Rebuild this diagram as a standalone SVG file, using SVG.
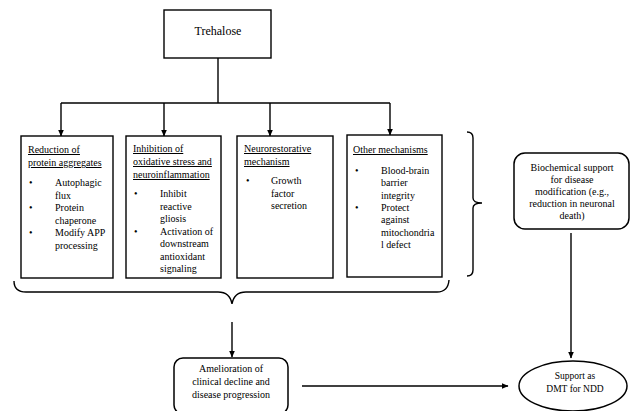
<svg xmlns="http://www.w3.org/2000/svg" width="630" height="411" viewBox="0 0 630 411">
<defs>
<marker id="ah" markerWidth="7" markerHeight="7" refX="6.5" refY="3.5" orient="auto" markerUnits="userSpaceOnUse">
<path d="M0,0.5 L7,3.5 L0,6.5 Z" fill="#000"/>
</marker>
<style>
text{font-family:"Liberation Serif","Times New Roman",serif;font-size:10px;fill:#000}
.t12{font-size:12px}
.c{text-anchor:middle}
.u{text-decoration:underline}
.box{fill:#fff;stroke:#000;stroke-width:1.4}
.rb{fill:#fff;stroke:#000;stroke-width:1.5}
.ln{fill:none;stroke:#000;stroke-width:1.4}
.ar{fill:none;stroke:#000;stroke-width:1.4;marker-end:url(#ah)}
</style>
</defs>
<rect width="630" height="411" fill="#fff"/>
<g id="connectors">
<path class="ln" d="M218,58 V103"/>
<path class="ln" d="M61,103 H390"/>
<path class="ar" d="M61,103 V136"/>
<path class="ar" d="M164,103 V136"/>
<path class="ar" d="M270,103 V136"/>
<path class="ar" d="M390,103 V135"/>
<path class="ln" d="M467,132 Q473,132 473,138 L473,198 Q473,203 482,203 Q473,203 473,208 L473,270 Q473,276 467,276"/>
<path class="ln" d="M14,281 Q14,292 26,292 L218,292 Q230,292 232,304 Q234,292 246,292 L437,292 Q448,292 449,280"/>
<path class="ar" d="M232,322 V357"/>
<path class="ar" d="M302,386 H508"/>
<path class="ar" d="M571,233 V358"/>
</g>
<g id="trehalose">
<rect class="box" x="164" y="10" width="107" height="48"/>
<text class="t12 c" x="218" y="35">Trehalose</text>
</g>
<g id="box1">
<rect class="box" x="21" y="136" width="92" height="142"/>
<text class="u" x="28" y="153">Reduction of</text>
<text class="u" x="28" y="166">protein aggregates</text>
<text x="29" y="186">•</text><text x="55" y="186">Autophagic</text>
<text x="55" y="198.5">flux</text>
<text x="29" y="211">•</text><text x="55" y="211">Protein</text>
<text x="55" y="223.5">chaperone</text>
<text x="29" y="236">•</text><text x="55" y="236">Modify APP</text>
<text x="55" y="248.5">processing</text>
</g>
<g id="box2">
<rect class="box" x="126" y="136" width="95" height="142"/>
<text class="u" x="133" y="152">Inhibition of</text>
<text class="u" x="133" y="165">oxidative stress and</text>
<text class="u" x="133" y="178">neuroinflammation</text>
<text x="134" y="197">•</text><text x="160" y="197">Inhibit</text>
<text x="160" y="209.5">reactive</text>
<text x="160" y="222">gliosis</text>
<text x="134" y="234.5">•</text><text x="160" y="234.5">Activation of</text>
<text x="160" y="247">downstream</text>
<text x="160" y="259.5">antioxidant</text>
<text x="160" y="272">signaling</text>
</g>
<g id="box3">
<rect class="box" x="237" y="136" width="96" height="142"/>
<text class="u" x="244" y="152">Neurorestorative</text>
<text class="u" x="244" y="165">mechanism</text>
<text x="246" y="184">•</text><text x="271" y="184">Growth</text>
<text x="271" y="196.5">factor</text>
<text x="271" y="209">secretion</text>
</g>
<g id="box4">
<rect class="box" x="347" y="135" width="95" height="142"/>
<text class="u" x="353" y="153">Other mechanisms</text>
<text x="355" y="174">•</text><text x="381" y="174">Blood-brain</text>
<text x="381" y="186.3">barrier</text>
<text x="381" y="198.6">integrity</text>
<text x="355" y="210.9">•</text><text x="381" y="210.9">Protect</text>
<text x="381" y="223.2">against</text>
<text x="381" y="235.5">mitochondria</text>
<text x="381" y="247.8">l defect</text>
</g>
<g id="biochemical">
<rect class="rb" x="514" y="153" width="115" height="76" rx="11"/>
<text class="c" x="572" y="170.5">Biochemical support</text>
<text class="c" x="572" y="182.7">for disease</text>
<text class="c" x="572" y="194.9">modification (e.g.,</text>
<text class="c" x="572" y="207.1">reduction in neuronal</text>
<text class="c" x="572" y="219.3">death)</text>
</g>
<g id="amelioration">
<rect class="rb" x="174" y="358" width="114" height="56" rx="9"/>
<text class="c" x="231" y="372">Amelioration of</text>
<text class="c" x="231" y="385">clinical decline and</text>
<text class="c" x="231" y="398">disease progression</text>
</g>
<g id="support">
<ellipse class="rb" cx="573" cy="386" rx="54" ry="25"/>
<text class="c" x="575" y="379" style="font-size:9.5px">Support as</text>
<text class="c" x="575" y="391.5" style="font-size:9.5px">DMT for NDD</text>
</g>
</svg>
